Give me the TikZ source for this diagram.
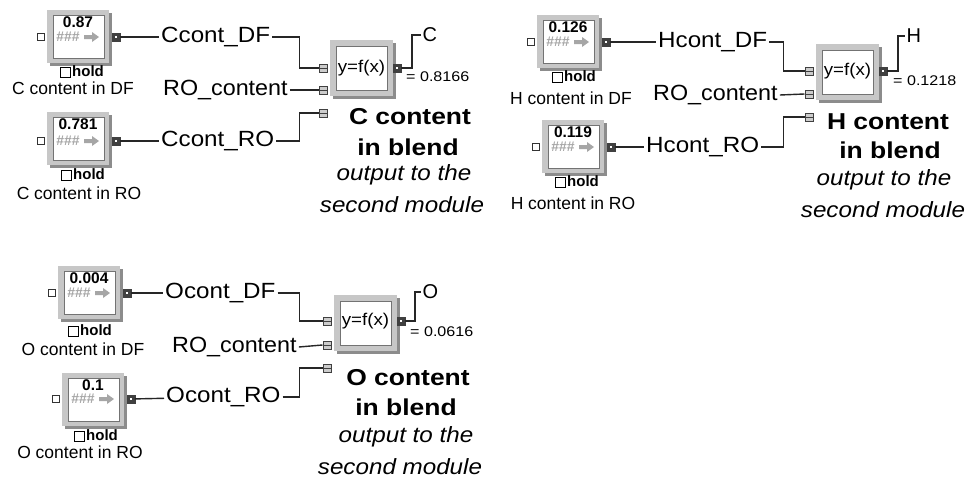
\documentclass[tikz,border=0pt]{standalone}
\usepackage{fontspec}
\setmainfont{Liberation Sans}
\usepackage{graphicx}
\usetikzlibrary{calc}

\newcommand\hsc[2]{\scalebox{#1}[1]{#2}}
\newcommand\holdbox{{\setlength\fboxsep{0pt}\setlength\fboxrule{1pt}\fbox{\rule{0pt}{9pt}\hspace{9pt}}}\hspace{1pt}}

\tikzset{
  wire/.style={draw=black!85, line width=1.4pt},
  shadowfill/.style={fill=black!45},
  frm/.style={fill=black!22},
  innerbox/.style={fill=white, draw=black!55, line width=0.8pt},
  lbl/.style={anchor=west, inner sep=2pt, font=\fontsize{22}{24}\selectfont},
  caplbl/.style={inner sep=0pt, font=\fontsize{17.5}{19}\selectfont},
  holdlbl/.style={inner sep=0pt, font=\bfseries\fontsize{15}{16}\selectfont},
  vallbl/.style={inner sep=0pt, font=\bfseries\fontsize{15.5}{16}\selectfont},
  hashlbl/.style={inner sep=0pt, text=black!35, font=\bfseries\fontsize{14}{15}\selectfont},
  fnt/.style={inner sep=0pt, font=\fontsize{17}{18}\selectfont},
  reslbl/.style={anchor=west, inner sep=1.5pt, font=\fontsize{20}{22}\selectfont},
  eqv/.style={anchor=west, inner sep=0pt, font=\fontsize{14}{15}\selectfont},
  ttl/.style={inner sep=0pt, font=\bfseries\fontsize{23}{25}\selectfont},
  itl/.style={inner sep=0pt, font=\itshape\fontsize{22}{24}\selectfont},
  inport/.style={rectangle, draw=black!80, fill=white, line width=1pt, minimum size=7.5pt, inner sep=0pt},
  outport/.style={rectangle, draw=black!75, fill=black!75, minimum size=7.5pt, inner sep=0pt,
    path picture={\fill[white] ([xshift=-1pt,yshift=-1pt]path picture bounding box.center) rectangle ++(2pt,2pt);}},
  fnport/.style={rectangle, draw=black!75, fill=black!20, line width=1pt, minimum size=8pt, inner sep=0pt,
    path picture={\draw[black!75, line width=1pt] (path picture bounding box.west) -- (path picture bounding box.east);}},
}

% slider block: name, left, top, port y, value
\newcommand\slider[5]{%
  \fill[shadowfill] (#2+3,#3+3) rectangle (#2+65,#3+56);
  \fill[frm] (#2,#3) rectangle (#2+62,#3+53);
  \draw[innerbox] (#2+6,#3+5) rectangle (#2+57,#3+48);
  \node[vallbl] (#1-val) at (#2+31,#3+12) {#5};
  \node[hashlbl] (#1-hash) at (#2+21,#4) {\#\#\#};
  \fill[black!35] (#2+37,#4-2) -- (#2+45,#4-2) -- (#2+45,#4-5) -- (#2+52,#4) -- (#2+45,#4+5) -- (#2+45,#4+2) -- (#2+37,#4+2) -- cycle;
  \node[inport] (#1-in) at (#2-6,#4) {};
  \node[outport] (#1-out) at (#2+69,#4) {};
}

% function block: name, left, top, port1 y, port2 y, port3 y
\newcommand\fnblock[6]{%
  \fill[shadowfill] (#2+3,#3+3) rectangle (#2+66,#3+59);
  \fill[frm] (#2,#3) rectangle (#2+63,#3+56);
  \draw[innerbox] (#2+6,#3+6) rectangle (#2+57,#3+50);
  \node[fnt] (#1-txt) at (#2+31.5,#4) {\hsc{1.1}{y=f(x)}};
  \node[fnport] (#1-p1) at (#2-7,#4) {};
  \node[fnport] (#1-p2) at (#2-7,#5) {};
  \node[fnport] (#1-p3) at (#2-7,#6) {};
  \node[outport] (#1-out) at (#2+67,#4) {};
}

\begin{document}
\begin{tikzpicture}[x=1pt,y=-1pt]
\useasboundingbox (0,0) rectangle (975,480);
\fill[white] (0,0) rectangle (975,480);

% ================= C =================
\slider{CDF}{47}{10}{37}{0.87}
\node[holdlbl] (CDF-hold) at (82,72) {\holdbox hold};
\node[caplbl] (CDF-cap) at (73,88) {C content in DF};
\slider{CRO}{47}{112}{141}{0.781}
\node[holdlbl] (CRO-hold) at (83,175) {\holdbox hold};
\node[caplbl] (CRO-cap) at (79,193) {C content in RO};
\node[lbl] (CDFl) at (159,37) {\hsc{1.1}{Ccont\_DF}};
\node[lbl] (CROc) at (161,90) {\hsc{1.06}{RO\_content}};
\node[lbl] (CROl) at (159,141) {\hsc{1.1}{Ccont\_RO}};
\fnblock{Cfn}{330}{40}{68}{90}{113}
\node[reslbl] (Cres) at (421,35) {C};
\node[eqv] (Ceq) at (406,77) {\hsc{1.15}{= 0.8166}};
\node[ttl] (Ct1) at (410,117) {\hsc{1.15}{C content}};
\node[ttl] (Ct2) at (408,147) {\hsc{1.15}{in blend}};
\node[itl] (Ci1) at (404,175) {\hsc{1.1}{output to the}};
\node[itl] (Ci2) at (402,205) {\hsc{1.1}{second module}};
\draw[wire] (CDF-out) -- (CDFl);
\draw[wire] (CRO-out) -- (CROl);
\draw[wire] (CDFl.east) -| ([xshift=-19pt]Cfn-p1.west) -- (Cfn-p1.west);
\draw[wire] (CROc.east) -- (Cfn-p2.west);
\draw[wire] (CROl.east) -| ([xshift=-19pt]Cfn-p3.west) -- (Cfn-p3.west);
\draw[wire] (Cfn-out.east) -- ++(11pt,0pt) |- (Cres.west);

% ================= H =================
\slider{HDF}{537}{15}{42}{0.126}
\node[holdlbl] (HDF-hold) at (574,77) {\holdbox hold};
\node[caplbl] (HDF-cap) at (571,98) {H content in DF};
\slider{HRO}{542}{120}{147}{0.119}
\node[holdlbl] (HRO-hold) at (577,182) {\holdbox hold};
\node[caplbl] (HRO-cap) at (573,203) {H content in RO};
\node[lbl] (HDFl) at (656,42) {\hsc{1.1}{Hcont\_DF}};
\node[lbl] (HROc) at (651,95) {\hsc{1.06}{RO\_content}};
\node[lbl] (HROl) at (644,147) {\hsc{1.1}{Hcont\_RO}};
\fnblock{Hfn}{816}{44}{71}{94}{117}
\node[reslbl] (Hres) at (905,36) {H};
\node[eqv] (Heq) at (893,81) {\hsc{1.15}{= 0.1218}};
\node[ttl] (Ht1) at (888,122) {\hsc{1.15}{H content}};
\node[ttl] (Ht2) at (890,150) {\hsc{1.15}{in blend}};
\node[itl] (Hi1) at (884,180) {\hsc{1.1}{output to the}};
\node[itl] (Hi2) at (883,210) {\hsc{1.1}{second module}};
\draw[wire] (HDF-out) -- (HDFl);
\draw[wire] (HRO-out) -- (HROl);
\draw[wire] (HDFl.east) -| ([xshift=-21pt]Hfn-p1.west) -- (Hfn-p1.west);
\draw[wire] (HROc.east) -- (Hfn-p2.west);
\draw[wire] (HROl.east) -| ([xshift=-21pt]Hfn-p3.west) -- (Hfn-p3.west);
\draw[wire] (Hfn-out.east) -- ++(11pt,0pt) |- (Hres.west);

% ================= O =================
\slider{ODF}{58}{266}{293}{0.004}
\node[holdlbl] (ODF-hold) at (90,331) {\holdbox hold};
\node[caplbl] (ODF-cap) at (83,349) {O content in DF};
\slider{ORO}{62}{373}{399}{0.1}
\node[holdlbl] (ORO-hold) at (96,436) {\holdbox hold};
\node[caplbl] (ORO-cap) at (80,452) {O content in RO};
\node[lbl] (ODFl) at (163,293) {\hsc{1.1}{Ocont\_DF}};
\node[lbl] (OROc) at (170,347) {\hsc{1.06}{RO\_content}};
\node[lbl] (OROl) at (164,397) {\hsc{1.1}{Ocont\_RO}};
\fnblock{Ofn}{334}{295}{321}{345}{368}
\node[reslbl] (Ores) at (421,292) {O};
\node[eqv] (Oeq) at (410,332) {\hsc{1.15}{= 0.0616}};
\node[ttl] (Ot1) at (408,378) {\hsc{1.15}{O content}};
\node[ttl] (Ot2) at (406,407) {\hsc{1.15}{in blend}};
\node[itl] (Oi1) at (406,437) {\hsc{1.1}{output to the}};
\node[itl] (Oi2) at (400,467) {\hsc{1.1}{second module}};
\draw[wire] (ODF-out) -- (ODFl);
\draw[wire] (ORO-out) -- (OROl);
\draw[wire] (ODFl.east) -| ([xshift=-23pt]Ofn-p1.west) -- (Ofn-p1.west);
\draw[wire] (OROc.east) -- (Ofn-p2.west);
\draw[wire] (OROl.east) -| ([xshift=-23pt]Ofn-p3.west) -- (Ofn-p3.west);
\draw[wire] (Ofn-out.east) -- ++(10pt,0pt) |- (Ores.west);
\end{tikzpicture}
\end{document}
